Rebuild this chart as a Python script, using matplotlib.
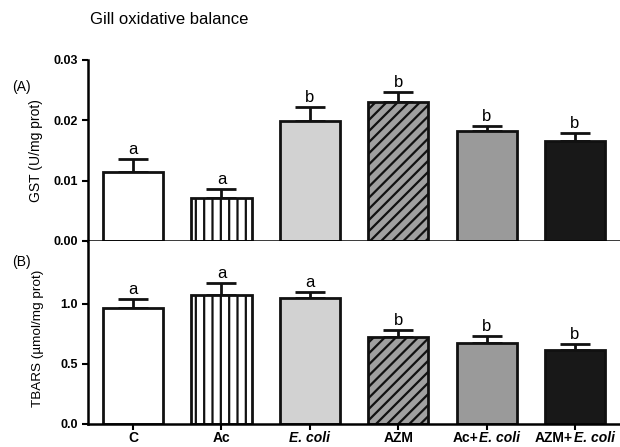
"""Gill oxidative balance: GST and TBARS bar panels."""

import matplotlib
matplotlib.use("Agg")
import matplotlib.pyplot as plt
import numpy as np
from matplotlib.offsetbox import AnnotationBbox, HPacker, TextArea

plt.rcParams["font.family"] = ["Liberation Sans", "DejaVu Sans"]
plt.rcParams["hatch.linewidth"] = 1.6

groups = ["C", "Ac", "E. coli", "AZM", "Ac+E. coli", "AZM+E. coli"]
# label pieces: (text, italic?)
group_parts = [
    [("C", False)],
    [("Ac", False)],
    [("E. coli", True)],
    [("AZM", False)],
    [("Ac+", False), ("E. coli", True)],
    [("AZM+", False), ("E. coli", True)],
]

gst_mean = [0.0114, 0.0071, 0.0199, 0.0230, 0.0182, 0.0166]
gst_err = [0.0022, 0.0015, 0.0023, 0.0017, 0.0009, 0.0013]
gst_letters = ["a", "a", "b", "b", "b", "b"]

tbars_mean = [0.964, 1.072, 1.047, 0.728, 0.672, 0.614]
tbars_err = [0.075, 0.100, 0.055, 0.055, 0.060, 0.050]
tbars_letters = ["a", "a", "a", "b", "b", "b"]

face_colors = ["white", "white", "#d2d2d2", "#a0a0a0", "#9a9a9a", "#181818"]
hatches = [None, "||", None, "///", None, None]

fig = plt.figure(figsize=(6.2, 4.47), dpi=100)
ax_top = fig.add_axes([0.142, 0.461, 0.858, 0.405])
ax_bot = fig.add_axes([0.142, 0.0515, 0.858, 0.4095])

x = np.arange(len(groups))


def draw_panel(ax, means, errs, letters, ylim, yticks, fmt):
    for i in range(len(groups)):
        ax.bar(x[i], means[i], width=0.68, color=face_colors[i],
               edgecolor="#111111", linewidth=2, hatch=hatches[i], zorder=2)
    ax.errorbar(x, means, yerr=[np.zeros(len(errs)), errs], fmt="none",
                ecolor="#111111", elinewidth=2, capsize=11, capthick=2, zorder=1)
    for i in range(len(groups)):
        ax.annotate(letters[i], (x[i], means[i] + errs[i]), xytext=(0, 1.5),
                    textcoords="offset points", ha="center", va="bottom",
                    fontsize=12)
    ax.set_xlim(-0.51, 5.51)
    ax.set_ylim(*ylim)
    ax.set_yticks(yticks)
    ax.set_yticklabels([fmt.format(t) for t in yticks], fontweight="bold",
                       fontsize=9)
    ax.set_xticks(x)
    ax.set_xticklabels([])
    for side in ["top", "right"]:
        ax.spines[side].set_visible(False)
    for side in ["left", "bottom"]:
        ax.spines[side].set_linewidth(1.8)
    ax.tick_params(width=1.5, length=4, direction="out")


draw_panel(ax_top, gst_mean, gst_err, gst_letters, (0, 0.03),
           [0.0, 0.01, 0.02, 0.03], "{:.2f}")
draw_panel(ax_bot, tbars_mean, tbars_err, tbars_letters, (0, 1.525),
           [0.0, 0.5, 1.0], "{:.1f}")

# group labels with italic species name
for i, parts in enumerate(group_parts):
    boxes = [TextArea(t, textprops=dict(fontsize=10, fontweight="bold",
                                        fontstyle="italic" if it else "normal"))
             for t, it in parts]
    packed = HPacker(children=boxes, pad=0, sep=0.5)
    ab = AnnotationBbox(packed, (x[i], 0), xycoords=("data", "axes fraction"),
                        xybox=(0, -5), boxcoords="offset points",
                        box_alignment=(0.5, 1.0), frameon=False,
                        annotation_clip=False)
    ax_bot.add_artist(ab)

ax_top.set_ylabel("GST (U/mg prot)", fontsize=10)
ax_bot.set_ylabel("TBARS (\u00b5mol/mg prot)", fontsize=9.7)
ax_top.yaxis.set_label_coords(-0.085, 0.5)
ax_bot.yaxis.set_label_coords(-0.082, 0.47)

fig.text(90 / 620, 1 - 20 / 447, "Gill oxidative balance", fontsize=12,
         ha="left", va="center")
fig.text(12 / 620, 1 - 87 / 447, "(A)", fontsize=10, ha="left", va="center")
fig.text(12 / 620, 1 - 262 / 447, "(B)", fontsize=10, ha="left", va="center")

fig.savefig("out.png", dpi=100)
